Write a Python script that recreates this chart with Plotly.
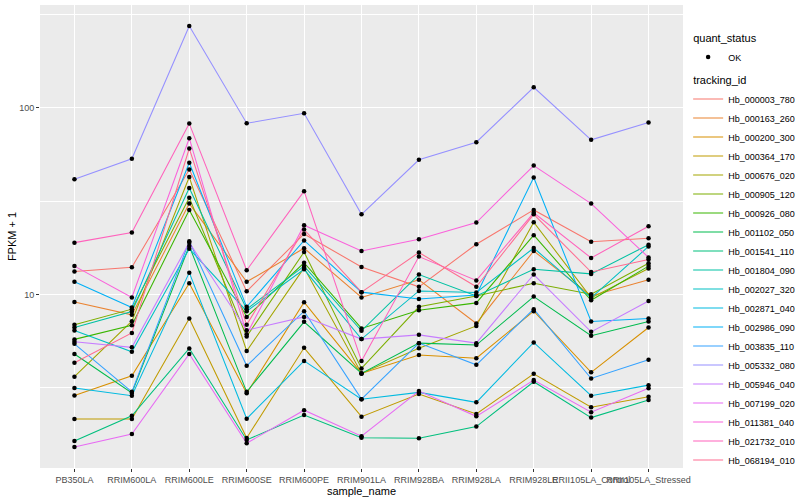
import numpy as np
import plotly.graph_objects as go

samples = ["PB350LA", "RRIM600LA", "RRIM600LE", "RRIM600SE", "RRIM600PE", "RRIM901LA",
           "RRIM928BA", "RRIM928LA", "RRIM928LE", "RRII105LA_Control", "RRII105LA_Stressed"]

tracking_ids = ["Hb_000003_780", "Hb_000163_260", "Hb_000200_300", "Hb_000364_170", "Hb_000676_020",
                "Hb_000905_120", "Hb_000926_080", "Hb_001102_050", "Hb_001541_110", "Hb_001804_090",
                "Hb_002027_320", "Hb_002871_040", "Hb_002986_090", "Hb_003835_110", "Hb_005332_080",
                "Hb_005946_040", "Hb_007199_020", "Hb_011381_040", "Hb_021732_010", "Hb_068194_010"]

colors = ["#F8766D", "#EA8331", "#D89000", "#C09B00", "#A3A500", "#7CAE00", "#39B600", "#00BB4E",
          "#00BF7D", "#00C1A3", "#00BFC4", "#00BAE0", "#00B0F6", "#35A2FF", "#9590FF", "#C77CFF",
          "#E76BF3", "#FA62DB", "#FF62BC", "#FF6C91"]

# FPKM + 1 per sample, one list per tracking_id
hb_000003_780 = [13.3, 14.0, 46.8, 10.4, 21.1, 14.05, 11.0, 18.6, 28.4, 19.2, 20.0]
hb_000163_260 = [9.13, 7.78, 30.7, 11.7, 17.7, 9.64, 12.0, 7.0, 17.1, 9.83, 12.0]
hb_000200_300 = [2.88, 3.67, 11.5, 2.955, 9.09, 3.78, 4.74, 4.56, 8.14, 3.83, 6.66]
hb_000364_170 = [2.154, 2.154, 7.44, 1.704, 5.18, 2.215, 2.93, 2.29, 3.76, 2.49, 2.835]
hb_000676_020 = [3.63, 7.2, 42.6, 4.98, 13.9, 3.78, 5.16, 6.79, 24.4, 9.59, 13.8]
hb_000905_120 = [6.88, 8.35, 33.0, 5.96, 16.9, 4.02, 8.59, 9.83, 11.5, 10.04, 14.7]
hb_000926_080 = [5.75, 6.85, 28.4, 7.59, 14.8, 6.58, 8.24, 9.02, 20.8, 9.32, 14.2]
hb_001102_050 = [4.80, 2.97, 18.2, 3.01, 7.14, 3.78, 5.49, 5.36, 9.75, 6.01, 7.17]
hb_001541_110 = [1.643, 2.24, 5.14, 1.663, 2.26, 1.71, 1.70, 1.96, 3.41, 2.19, 2.72]
hb_001804_090 = [6.66, 8.11, 37.2, 8.35, 14.2, 6.39, 12.8, 9.83, 13.65, 12.9, 18.5]
hb_002027_320 = [6.42, 4.93, 17.6, 8.14, 13.65, 5.77, 10.45, 10.25, 17.75, 9.59, 18.1]
hb_002871_040 = [3.16, 2.87, 13.1, 2.16, 4.41, 2.75, 2.99, 2.645, 5.54, 2.87, 3.27]
hb_002986_090 = [11.7, 8.52, 50.8, 8.59, 19.5, 10.3, 9.47, 9.95, 42.4, 7.17, 7.44]
hb_003835_110 = [5.44, 3.01, 19.3, 4.15, 8.14, 2.75, 5.49, 4.20, 8.35, 3.55, 4.47]
hb_005332_080 = [41.5, 53.4, 274.5, 82.7, 93.6, 26.9, 52.7, 65.5, 128.9, 67.4, 83.4]
hb_005946_040 = [5.58, 5.21, 18.97, 6.44, 7.59, 5.77, 6.08, 5.49, 12.8, 6.31, 9.24]
hb_007199_020 = [1.525, 1.79, 4.80, 1.597, 2.40, 1.74, 3.04, 2.225, 3.48, 2.34, 3.15]
hb_011381_040 = [14.2, 9.64, 68.8, 6.13, 23.5, 17.1, 19.8, 24.3, 49.1, 30.7, 15.8]
hb_021732_010 = [18.97, 21.5, 82.4, 13.5, 35.8, 4.41, 15.97, 11.9, 27.4, 15.7, 23.2]
hb_068194_010 = [4.31, 6.23, 60.6, 6.88, 22.3, 10.3, 16.8, 11.0, 26.9, 13.2, 15.4]

series = [hb_000003_780, hb_000163_260, hb_000200_300, hb_000364_170, hb_000676_020,
          hb_000905_120, hb_000926_080, hb_001102_050, hb_001541_110, hb_001804_090,
          hb_002027_320, hb_002871_040, hb_002986_090, hb_003835_110, hb_005332_080,
          hb_005946_040, hb_007199_020, hb_011381_040, hb_021732_010, hb_068194_010]

FONT = "Liberation Sans, Arial, Helvetica, sans-serif"

fig = go.Figure()
for i, (tid, col, vals) in enumerate(zip(tracking_ids, colors, series)):
    fig.add_trace(go.Scatter(
        x=samples, y=vals, mode="lines", name=tid,
        line=dict(color=col, width=1.05),
        legendgroup="tid", legendgrouptitle=dict(text="tracking_id", font=dict(size=11, color="#000000")),
        legendrank=100 + i, showlegend=True,
    ))

all_x = [s for _ in series for s in samples]
all_y = [v for vals in series for v in vals]
fig.add_trace(go.Scatter(
    x=all_x, y=all_y, mode="markers", name="OK",
    marker=dict(color="black", size=4.5),
    legendgroup="qs", legendgrouptitle=dict(text="quant_status", font=dict(size=11, color="#000000")),
    legendrank=1,
))

lo = np.log10(min(all_y))
hi = np.log10(max(all_y))
pad = 0.05 * (hi - lo)

fig.update_layout(
    width=800, height=500,
    margin=dict(l=40, r=116.5, t=5, b=32, autoexpand=False),
    paper_bgcolor="white", plot_bgcolor="#EBEBEB",
    font=dict(family=FONT, size=9, color="#4D4D4D"),
    showlegend=True,
    legend=dict(
        x=1.008, y=0.96, xanchor="left", yanchor="top",
        font=dict(family=FONT, size=9, color="#000000"),
        bgcolor="rgba(0,0,0,0)", tracegroupgap=4, itemwidth=30,
        traceorder="grouped",
    ),
)
fig.update_xaxes(
    type="category", range=[-0.6, len(samples) - 0.4],
    showgrid=True, gridcolor="white", gridwidth=1.1,
    ticks="outside", ticklen=3, tickcolor="#333333", tickwidth=1,
    tickangle=0, tickfont=dict(family=FONT, size=9, color="#4D4D4D"),
    title=dict(text="sample_name", font=dict(family=FONT, size=11, color="#000000"), standoff=1),
    zeroline=False, showline=False, automargin=False,
)
fig.update_yaxes(
    type="log", range=[lo - pad, hi + pad],
    tickvals=[10, 100], ticktext=["10", "100"],
    showgrid=True, gridcolor="white", gridwidth=1.1,
    minor=dict(tickvals=[10 ** 0.5, 10 ** 1.5, 10 ** 2.5], showgrid=True, gridcolor="white", gridwidth=0.5, ticks=""),
    ticks="outside", ticklen=3, tickcolor="#333333", tickwidth=1,
    tickfont=dict(family=FONT, size=9, color="#4D4D4D"),
    title=dict(text="FPKM + 1", font=dict(family=FONT, size=11, color="#000000"), standoff=0),
    zeroline=False, showline=False, automargin=False,
)

fig.write_html("out.html", config={"displayModeBar": False},
               post_script="document.body.style.margin='0';document.body.style.padding='0';")
